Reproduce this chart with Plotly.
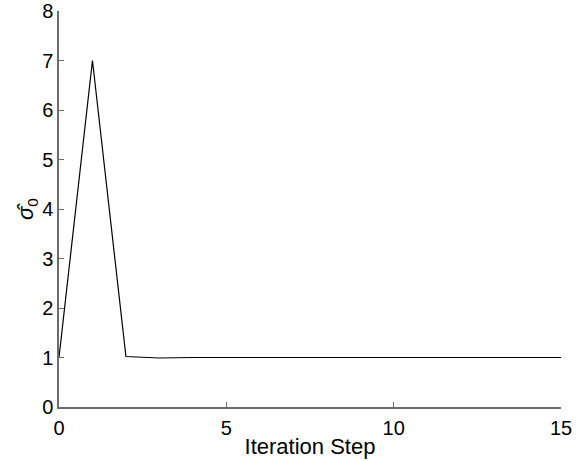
import plotly.graph_objects as go

iteration = list(range(16))
sigma0 = [1.0, 7.0, 1.02, 0.99, 1.0, 1.0, 1.0, 1.0, 1.0, 1.0, 1.0, 1.0, 1.0, 1.0, 1.0, 1.0]

x_ticks = [0, 5, 10, 15]
y_ticks = [0, 1, 2, 3, 4, 5, 6, 7, 8]

fig = go.Figure()
fig.add_trace(go.Scatter(x=iteration, y=sigma0, mode="lines",
                         line=dict(color="black", width=1.2), showlegend=False))

fam = "Liberation Sans, Arial, sans-serif"
tickfont = dict(family=fam, size=20, color="black")
axis_common = dict(showgrid=False, zeroline=False, showline=True, linecolor="#6b6b6b",
                   linewidth=1.5, ticks="inside", ticklen=5, tickcolor="#6b6b6b",
                   tickwidth=1, tickfont=tickfont, mirror=False, automargin=False)

fig.update_layout(
    width=583, height=461,
    margin=dict(l=59, r=22, t=11, b=54),
    paper_bgcolor="white", plot_bgcolor="white",
    xaxis=dict(range=[0, 15], tickvals=x_ticks, ticklabelstandoff=2,
               title=dict(text="Iteration Step", font=dict(family=fam, size=22, color="black"), standoff=1),
               **axis_common),
    yaxis=dict(range=[0, 8], tickvals=y_ticks,
               title=dict(text="<i>σ̂</i><sub>0</sub>", font=dict(family=fam, size=22, color="black"), standoff=2),
               **axis_common),
)

fig.write_html("out.html")
